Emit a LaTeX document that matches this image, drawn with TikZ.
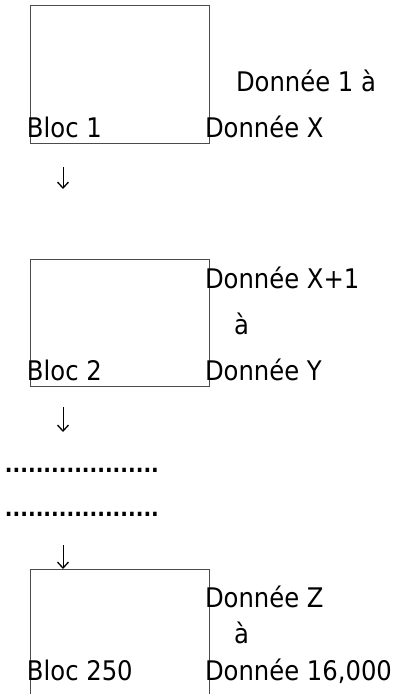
\documentclass[tikz,border=0pt]{standalone}
\usepackage{fontspec}
\setmainfont{DejaVu Sans Condensed}
\newfontfamily\dotsfont{DejaVu Sans Condensed Bold}
\usetikzlibrary{arrows.meta}
\definecolor{framegray}{RGB}{75,75,75}
\begin{document}
\begin{tikzpicture}[x=1pt, y=-1pt,
  blockbox/.style={draw=framegray, line width=1pt, rectangle, inner sep=0pt, outer sep=0pt, minimum width=179pt},
  label/.style={anchor=base west, inner sep=0pt, outer sep=0pt, font=\fontsize{27pt}{32pt}\selectfont},
  dotrow/.style={anchor=base west, inner sep=0pt, outer sep=0pt, font=\dotsfont\fontsize{22.5pt}{27pt}\selectfont},
  flow/.style={line width=1pt, -{Straight Barb[length=6pt, width=11pt, line width=1.3pt]}}]
  \clip (0,0) rectangle (401,694);
  \fill[white] (0,0) rectangle (401,694);

  % first block
  \node[blockbox, minimum height=138pt] (b1) at (119.5,74) {};
  \node[label] (b1name) at (27,137) {Bloc 1};
  \node[label] (b1from) at (236,91) {Donnée 1 à};
  \node[label] (b1to) at (205,137) {Donnée X};
  \coordinate (a1s) at (63,167);
  \coordinate (a1e) at (63,189);
  \draw[flow] (a1s) -- (a1e);

  % second block
  \node[blockbox, minimum height=127pt] (b2) at (119.5,322.5) {};
  \node[label] (b2from) at (205,288) {Donnée X+1};
  \node[label] (b2mid) at (234,334) {à};
  \node[label] (b2name) at (27,380) {Bloc 2};
  \node[label] (b2to) at (205,380) {Donnée Y};
  \coordinate (a2s) at (63,407);
  \coordinate (a2e) at (63,432);
  \draw[flow] (a2s) -- (a2e);

  % omitted blocks
  \node[dotrow] (gap1) at (5,472) {....................};
  \node[dotrow] (gap2) at (5,516) {....................};

  % last block
  \node[blockbox, minimum height=160pt] (b3) at (119.5,649) {};
  \coordinate (a3s) at (63,545);
  \draw[flow] (a3s) -- (a3s |- b3.north);
  \node[label] (b3from) at (205,607) {Donnée Z};
  \node[label] (b3mid) at (234,643) {à};
  \node[label] (b3name) at (27,680) {Bloc 250};
  \node[label] (b3to) at (205,680) {Donnée 16,000};
\end{tikzpicture}
\end{document}
